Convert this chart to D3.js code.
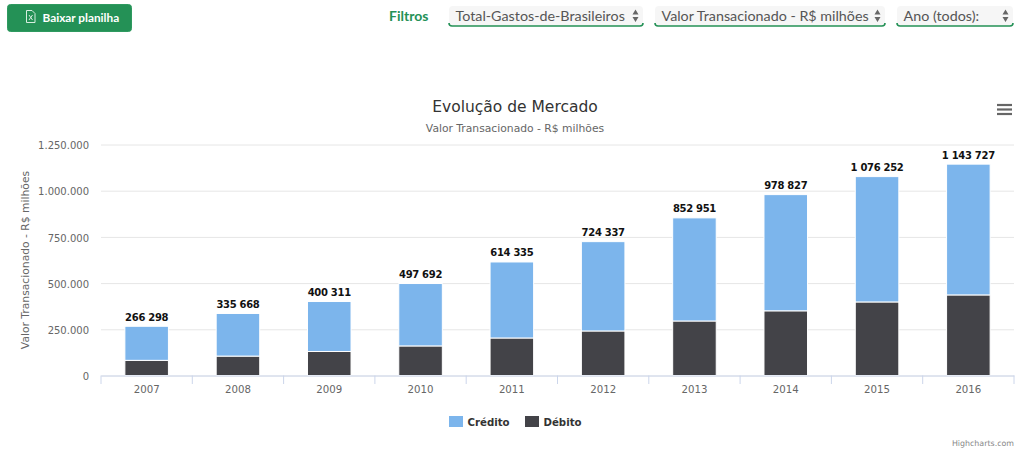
<!DOCTYPE html>
<html><head><meta charset="utf-8">
<script src="https://cdn.jsdelivr.net/npm/d3@7/dist/d3.min.js"></script>
<style>
html,body{margin:0;padding:0;background:#fff;overflow:hidden}
svg{display:block}
</style></head><body>
<svg id="c" width="1024" height="459"></svg>
<script>
const years=["2007","2008","2009","2010","2011","2012","2013","2014","2015","2016"];
const totals=[266298,335668,400311,497692,614335,724337,852951,978827,1076252,1143727];
const debito=[82000,105000,130000,160000,203000,241000,295000,350000,398000,436000];
const credito=[184298,230668,270311,337692,411335,483337,557951,628827,678252,707727];
const totalLabels=["266 298","335 668","400 311","497 692","614 335","724 337","852 951","978 827","1 076 252","1 143 727"];
const yTicks=[0,250000,500000,750000,1000000,1250000];
const seriesNames=["Crédito","Débito"];
const seriesColors=["#7cb5ec","#434348"];
const filters=["Total-Gastos-de-Brasileiros","Valor Transacionado - R$ milhões","Ano (todos):"];

const svg=d3.select("#c");
const chartFont="'DejaVu Sans',sans-serif", uiFont="Lato,sans-serif";
const x=d3.scaleBand().domain(years).range([101,1014]).paddingInner(0.523).paddingOuter(0.2615);
const xOuter=d3.scaleBand().domain(years).range([101,1014]);
const y=d3.scaleLinear().domain([0,1250000]).range([375.5,144.5]);
const fmt=v=>d3.format(",")(v).replace(/,/g,".");

// top bar
svg.append("rect").attr("x",7.5).attr("y",4.5).attr("width",124).attr("height",27).attr("rx",3).attr("fill","#249156").attr("stroke","#2f9a60");
const ic=svg.append("g").attr("transform","translate(26,10)").attr("fill","none").attr("stroke","#d7eee0").attr("stroke-width",1);
ic.append("path").attr("d","M0.5 0.5H6L9 3.5V12.5H0.5Z");
ic.append("path").attr("d","M3 5L6.5 10M6.5 5L3 10");
svg.append("text").attr("x",42.5).attr("y",22).attr("font-family",uiFont).attr("font-size",11.8).attr("font-weight",700).attr("fill","#fff").text("Baixar planilha");
svg.append("text").attr("x",389).attr("y",21).attr("font-family",uiFont).attr("font-size",14).attr("font-weight",700).attr("fill","#249156").text("Filtros");
const fx=[[449,194],[655,230],[897,116]];
filters.forEach((t,i)=>{
  const [l,w]=fx[i];
  svg.append("path").attr("d",`M${l} 10a4 4 0 0 1 4-4H${l+w-4}a4 4 0 0 1 4 4V23a3 3 0 0 1-3 3H${l+3}a3 3 0 0 1-3-3Z`).attr("fill","#f6f6f6");
  svg.append("path").attr("d",`M${l} 23a3 3 0 0 0 3 3H${l+w-3}a3 3 0 0 0 3-3`).attr("fill","none").attr("stroke","#249156").attr("stroke-width",1.6);
  svg.append("text").attr("x",l+6.5).attr("y",21).attr("font-family",uiFont).attr("font-size",14.3).attr("fill","#555").text(t);
  const ax=l+w-7.5;
  svg.append("path").attr("d",`M${ax-3} 14.5L${ax} 9.5L${ax+3} 14.5ZM${ax-3} 17L${ax} 22L${ax+3} 17Z`).attr("fill","#666");
});

// titles
svg.append("text").attr("x",515).attr("y",111.5).attr("text-anchor","middle").attr("font-family",chartFont).attr("font-size",15.5).attr("fill","#333").text("Evolução de Mercado");
svg.append("text").attr("x",515).attr("y",132).attr("text-anchor","middle").attr("font-family",chartFont).attr("font-size",10.75).attr("fill","#666").text("Valor Transacionado - R$ milhões");
const menu=svg.append("g").attr("stroke","#666").attr("stroke-width",2.2);
[105,109.5,114].forEach(v=>menu.append("line").attr("x1",997).attr("x2",1012).attr("y1",v).attr("y2",v));

// grid and y axis
const gy=svg.append("g").attr("transform","translate(101,0)").call(d3.axisLeft(y).tickValues(yTicks).tickSize(-913).tickPadding(12).tickFormat(fmt));
gy.select(".domain").remove();
gy.selectAll("line").attr("stroke","#e6e6e6");
gy.selectAll("text").attr("font-family",chartFont).attr("font-size",10).attr("fill","#666").attr("dy","0.42em");
svg.append("text").attr("transform","translate(29,260) rotate(-90)").attr("text-anchor","middle").attr("font-family",chartFont).attr("font-size",10.75).attr("fill","#666").text("Valor Transacionado - R$ milhões");

// stacked bars
const rows=years.map((yr,i)=>({year:yr,"Crédito":credito[i],"Débito":debito[i]}));
const stack=d3.stack().keys(["Débito","Crédito"])(rows);
const color=d3.scaleOrdinal().domain(seriesNames).range(seriesColors);
svg.append("g").selectAll("g").data(stack).join("g").attr("fill",d=>color(d.key)).selectAll("rect").data(d=>d).join("rect")
 .attr("x",d=>x(d.data.year)).attr("width",x.bandwidth())
 .attr("y",d=>y(d[1])).attr("height",d=>y(d[0])-y(d[1]))
 .attr("stroke","#fff").attr("stroke-width",1);

// x axis
const gx=svg.append("g").attr("transform","translate(0,375.5)").call(d3.axisBottom(xOuter).tickSize(0).tickPadding(10));
gx.select(".domain").attr("stroke","#ccd6eb");
gx.selectAll("text").attr("font-family",chartFont).attr("font-size",10.2).attr("fill","#666");
const edges=years.map(v=>xOuter(v)).concat([1014]);
svg.append("g").selectAll("line").data(edges).join("line").attr("x1",d=>d).attr("x2",d=>d).attr("y1",375.5).attr("y2",384).attr("stroke","#ccd6eb");

// total labels
svg.append("g").selectAll("text").data(years).join("text")
 .attr("x",d=>x(d)+x.bandwidth()/2).attr("y",(d,i)=>y(totals[i])-5.5)
 .attr("text-anchor","middle").attr("font-family",chartFont).attr("font-size",10).attr("letter-spacing",-0.3).attr("font-weight",700).attr("fill","#111")
 .text((d,i)=>totalLabels[i]);

// legend
const lx=[449,525];
seriesNames.forEach((n,i)=>{
  svg.append("rect").attr("x",lx[i]).attr("y",416).attr("width",14).attr("height",11).attr("fill",color(n));
  svg.append("text").attr("x",lx[i]+18.5).attr("y",426).attr("font-family",chartFont).attr("font-size",10.2).attr("font-weight",700).attr("fill","#333").text(n);
});
svg.append("text").attr("x",1014).attr("y",446).attr("text-anchor","end").attr("font-family",chartFont).attr("font-size",7.9).attr("fill","#888").text("Highcharts.com");
</script></body></html>
